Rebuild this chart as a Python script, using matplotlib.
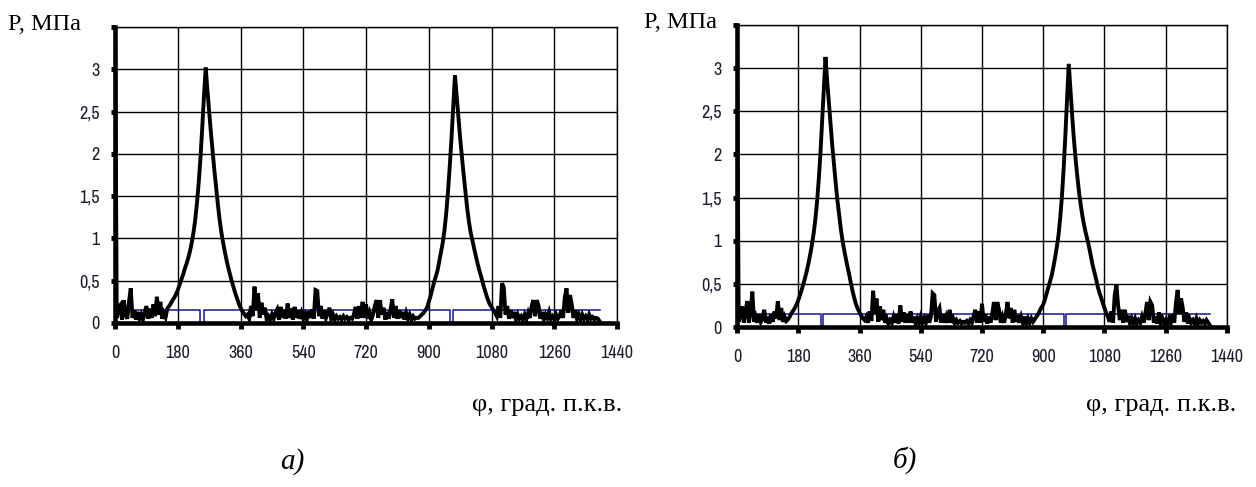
# encoding: utf-8
# индикаторные диаграммы давления, два варианта (а, б)
import numpy as np
import matplotlib.pyplot as plt

step = 5  # шаг по углу, град. п.к.в.

# давление P, МПа, вариант а) (0..1390 град, шаг 5)
p_a = [
    3.50, 0.06, 0.18, 0.21, 0.04, 0.27, 0.10, 0.05, 0.25, 0.41, 0.06, 0.15, 0.04, 0.13, 0.05, 0.10, 0.04, 0.12,
    0.20, 0.05, 0.17, 0.06, 0.22, 0.08, 0.31, 0.10, 0.25, 0.05, 0.12, 0.07, 0.17, 0.20, 0.23, 0.27, 0.30, 0.34,
    0.39, 0.45, 0.51, 0.57, 0.64, 0.70, 0.77, 0.85, 0.95, 1.07, 1.22, 1.42, 1.66, 1.95, 2.30, 2.68, 3.02, 2.75,
    2.50, 2.25, 2.02, 1.80, 1.60, 1.40, 1.22, 1.07, 0.95, 0.84, 0.74, 0.65, 0.57, 0.49, 0.42, 0.35, 0.29, 0.23,
    0.18, 0.14, 0.11, 0.08, 0.10, 0.05, 0.20, 0.08, 0.43, 0.15, 0.35, 0.06, 0.24, 0.10, 0.18, 0.04, 0.08, 0.04,
    0.10, 0.05, 0.12, 0.16, 0.04, 0.19, 0.06, 0.16, 0.05, 0.23, 0.06, 0.17, 0.04, 0.19, 0.06, 0.15, 0.05, 0.12,
    0.05, 0.10, 0.04, 0.14, 0.06, 0.16, 0.05, 0.39, 0.38, 0.08, 0.20, 0.05, 0.15, 0.06, 0.12, 0.18, 0.05, 0.10,
    0.04, 0.08, 0.05, 0.07, 0.04, 0.08, 0.05, 0.07, 0.04, 0.06, 0.05, 0.10, 0.19, 0.05, 0.20, 0.06, 0.25, 0.06,
    0.22, 0.05, 0.12, 0.04, 0.10, 0.20, 0.27, 0.06, 0.27, 0.10, 0.18, 0.04, 0.13, 0.05, 0.15, 0.28, 0.06, 0.20,
    0.05, 0.15, 0.06, 0.13, 0.04, 0.12, 0.05, 0.10, 0.04, 0.08, 0.05, 0.06, 0.06, 0.08, 0.10, 0.12, 0.15, 0.18,
    0.25, 0.32, 0.40, 0.48, 0.55, 0.62, 0.73, 0.84, 0.95, 1.10, 1.30, 1.55, 1.85, 2.18, 2.55, 2.93, 2.68, 2.42,
    2.18, 1.96, 1.75, 1.55, 1.36, 1.20, 1.07, 0.98, 0.88, 0.79, 0.70, 0.62, 0.55, 0.47, 0.40, 0.33, 0.27, 0.22,
    0.19, 0.15, 0.12, 0.08, 0.20, 0.06, 0.47, 0.42, 0.10, 0.20, 0.05, 0.15, 0.06, 0.13, 0.04, 0.10, 0.05, 0.08,
    0.04, 0.10, 0.05, 0.12, 0.06, 0.20, 0.27, 0.08, 0.27, 0.20, 0.05, 0.13, 0.04, 0.10, 0.06, 0.13, 0.05, 0.08,
    0.04, 0.10, 0.05, 0.08, 0.15, 0.06, 0.30, 0.41, 0.12, 0.33, 0.22, 0.06, 0.15, 0.05, 0.10, 0.04, 0.10, 0.05,
    0.08, 0.04, 0.10, 0.05, 0.07, 0.04, 0.06, 0.05, 0.02,
]

# давление P, МПа, вариант б)
p_b = [
    3.25, 0.06, 0.15, 0.24, 0.05, 0.18, 0.30, 0.05, 0.20, 0.41, 0.06, 0.12, 0.05, 0.15, 0.06, 0.10, 0.20, 0.05,
    0.12, 0.04, 0.15, 0.06, 0.18, 0.10, 0.30, 0.08, 0.22, 0.06, 0.12, 0.07, 0.09, 0.12, 0.16, 0.19, 0.22, 0.26,
    0.31, 0.37, 0.43, 0.50, 0.57, 0.65, 0.74, 0.84, 0.95, 1.08, 1.24, 1.44, 1.70, 2.00, 2.38, 2.78, 3.13, 2.85,
    2.60, 2.35, 2.10, 1.88, 1.67, 1.47, 1.30, 1.14, 1.00, 0.89, 0.79, 0.69, 0.60, 0.50, 0.41, 0.33, 0.26, 0.21,
    0.17, 0.13, 0.10, 0.08, 0.12, 0.05, 0.18, 0.07, 0.42, 0.15, 0.33, 0.06, 0.24, 0.08, 0.20, 0.05, 0.10, 0.04,
    0.08, 0.05, 0.12, 0.05, 0.15, 0.04, 0.25, 0.06, 0.17, 0.05, 0.15, 0.05, 0.18, 0.05, 0.12, 0.04, 0.10, 0.05,
    0.12, 0.05, 0.10, 0.05, 0.14, 0.05, 0.12, 0.39, 0.37, 0.06, 0.18, 0.22, 0.05, 0.15, 0.05, 0.12, 0.05, 0.20,
    0.05, 0.10, 0.04, 0.08, 0.05, 0.07, 0.04, 0.06, 0.05, 0.07, 0.04, 0.08, 0.05, 0.12, 0.20, 0.05, 0.18, 0.05,
    0.27, 0.06, 0.15, 0.04, 0.12, 0.05, 0.15, 0.29, 0.08, 0.29, 0.20, 0.05, 0.12, 0.05, 0.15, 0.29, 0.10, 0.22,
    0.05, 0.20, 0.06, 0.14, 0.05, 0.12, 0.05, 0.12, 0.04, 0.10, 0.05, 0.10, 0.06, 0.09, 0.12, 0.15, 0.19, 0.23,
    0.26, 0.32, 0.39, 0.46, 0.53, 0.60, 0.70, 0.81, 0.93, 1.07, 1.27, 1.52, 1.84, 2.22, 2.65, 3.05, 2.75, 2.45,
    2.18, 1.95, 1.75, 1.57, 1.42, 1.29, 1.18, 1.09, 1.01, 0.92, 0.82, 0.72, 0.64, 0.56, 0.47, 0.40, 0.34, 0.28,
    0.22, 0.16, 0.12, 0.06, 0.18, 0.05, 0.37, 0.49, 0.25, 0.08, 0.20, 0.05, 0.20, 0.06, 0.13, 0.04, 0.10, 0.05,
    0.10, 0.04, 0.08, 0.05, 0.12, 0.05, 0.15, 0.29, 0.08, 0.29, 0.25, 0.05, 0.12, 0.04, 0.17, 0.05, 0.10, 0.04,
    0.08, 0.04, 0.10, 0.05, 0.15, 0.05, 0.28, 0.43, 0.15, 0.33, 0.22, 0.06, 0.17, 0.04, 0.10, 0.05, 0.08, 0.04,
    0.10, 0.04, 0.08, 0.05, 0.07, 0.04, 0.08, 0.05, 0.02,
]

# синяя ступенчатая линия (отметка), угол и уровень
sig_x_a = [0, 244, 255, 962, 970, 1390]
sig_y_a = [0.15, 0.0, 0.15, 0.0, 0.15, 0.15]
sig_x_b = [0, 247, 254, 961, 968, 1390]
sig_y_b = [0.15, 0.0, 0.15, 0.0, 0.15, 0.15]

x_ticks = [0, 180, 360, 540, 720, 900, 1080, 1260, 1440]
y_ticks = [0, 0.5, 1, 1.5, 2, 2.5, 3, 3.5]
y_labels = ['0', '0,5', '1', '1,5', '2', '2,5', '3', '']

tick_font = ['Liberation Sans Narrow', 'Arial Narrow', 'Archivo Narrow', 'DejaVu Sans']
serif = ['Liberation Serif', 'DejaVu Serif']
tick_col = '#1c1c2c'


def draw(ax, p, sx, sy):
    phi = np.arange(len(p)) * step
    ax.plot(sx, sy, drawstyle='steps-post', color='#14148f', lw=1.1, zorder=3)
    ax.plot(phi, p, color='black', lw=2.8, zorder=4, solid_joinstyle='miter')
    ax.set_xlim(0, 1440)
    ax.set_ylim(0, 3.5)
    ax.set_xticks(x_ticks)
    ax.set_xticklabels([str(t) for t in x_ticks], family=tick_font, fontsize=13, color=tick_col)
    ax.set_yticks(y_ticks)
    ax.set_yticklabels(y_labels, family=tick_font, fontsize=13, color=tick_col)
    ax.grid(True, color='black', lw=1.0, zorder=1)
    ax.set_axisbelow(True)
    for s in ['top', 'right']:
        ax.spines[s].set_linewidth(1.0)
    for s in ['left', 'bottom']:
        ax.spines[s].set_linewidth(3.3)
        ax.spines[s].set_zorder(5)
    ax.tick_params(axis='x', direction='out', length=4, width=3.5, pad=12)
    ax.tick_params(axis='y', direction='out', length=3, width=3.5, pad=8)


fig = plt.figure(figsize=(12.56, 4.87), dpi=100)
ax1 = fig.add_axes([0.0916, 0.3368, 0.3997, 0.6078])
ax2 = fig.add_axes([0.5868, 0.3285, 0.3901, 0.6201])
draw(ax1, p_a, sig_x_a, sig_y_a)
draw(ax2, p_b, sig_x_b, sig_y_b)

# подписи осей
fig.text(8 / 1256, 1 - 25 / 487, 'P, МПа', family=serif, fontsize=17.5, va='center', ha='left')
fig.text(717 / 1256, 1 - 22 / 487, 'P, МПа', family=serif, fontsize=17.5, va='center', ha='right')
fig.text(622 / 1256, 1 - 405 / 487, 'φ, град. п.к.в.', family=serif, fontsize=19, va='center', ha='right')
fig.text(1236 / 1256, 1 - 405 / 487, 'φ, град. п.к.в.', family=serif, fontsize=19, va='center', ha='right')
fig.text(292 / 1256, 1 - 462 / 487, 'а)', family=serif, style='italic', fontsize=21, va='center', ha='center')
fig.text(905 / 1256, 1 - 460 / 487, 'б)', family=serif, style='italic', fontsize=21, va='center', ha='center')

plt.savefig('out.png', dpi=100)
